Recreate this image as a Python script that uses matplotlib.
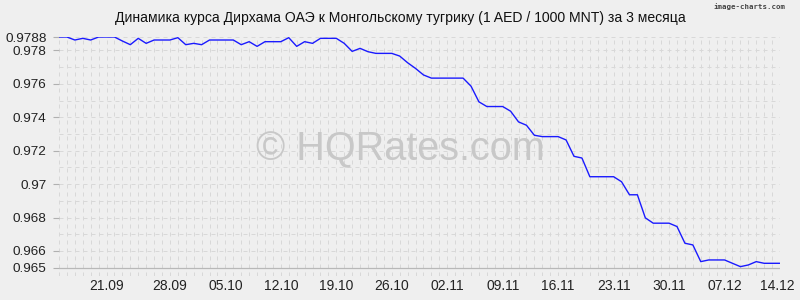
import matplotlib
matplotlib.use("Agg")
import matplotlib.pyplot as plt

# курс AED/MNT (1 AED / 1000 MNT), дневные точки за 3 месяца
rates = [
    0.97880, 0.97880, 0.97862, 0.97872, 0.97862, 0.97880, 0.97880, 0.97880,
    0.97856, 0.97834, 0.97872, 0.97842, 0.97862, 0.97862, 0.97862, 0.97876,
    0.97834, 0.97842, 0.97834, 0.97862, 0.97862, 0.97862, 0.97862, 0.97834,
    0.97852, 0.97824, 0.97852, 0.97852, 0.97852, 0.97876, 0.97824, 0.97852,
    0.97842, 0.97872, 0.97872, 0.97872, 0.97842, 0.97794, 0.97812, 0.97792,
    0.97782, 0.97782, 0.97782, 0.97766, 0.97726, 0.97692, 0.97653, 0.97634,
    0.97634, 0.97634, 0.97634, 0.97634, 0.97586, 0.97492, 0.97464, 0.97464,
    0.97464, 0.97436, 0.97372, 0.97352, 0.97292, 0.97284, 0.97284, 0.97284,
    0.97264, 0.97166, 0.97156, 0.97044, 0.97044, 0.97044, 0.97044, 0.97014,
    0.96936, 0.96936, 0.96798, 0.96766, 0.96766, 0.96766, 0.96746, 0.96646,
    0.96636, 0.96536, 0.96546, 0.96546, 0.96546, 0.96526, 0.96506, 0.96516,
    0.96536, 0.96526, 0.96526, 0.96526,
]
date_labels = ["21.09", "28.09", "05.10", "12.10", "19.10", "26.10", "02.11",
               "09.11", "16.11", "23.11", "30.11", "07.12", "14.12"]
date_pos = [6, 14, 21, 28, 35, 42, 49, 56, 63, 70, 77, 84, 90.6]
y_ticks = [0.9788, 0.978, 0.976, 0.974, 0.972, 0.97, 0.968, 0.966, 0.965]
y_labels = ["0.9788", "0.978", "0.976", "0.974", "0.972", "0.97", "0.968", "0.966", "0.965"]

title = "Динамика курса Дирхама ОАЭ к Монгольскому тугрику (1 AED / 1000 MNT) за 3 месяца"

bg = "#efefef"
plt.rcParams['font.family'] = ['Liberation Sans', 'DejaVu Sans']

fig = plt.figure(figsize=(8, 3), dpi=100, facecolor=bg)
ax = fig.add_axes([59 / 800, 1 - 276 / 300, 721 / 800, 239 / 300], facecolor=bg)

n = len(rates)
x = list(range(n))

# сетка: вертикальные линии на каждый день, горизонтальные через 0.001
dash = (0, (4, 4))
for i in x:
    ax.axvline(i, color="#d8d8d8", lw=0.72, ls=dash, zorder=1)
h_lines = [0.965 + 0.001 * k for k in range(14)] + [0.9788]
for v in h_lines:
    ax.axhline(v, color="#d8d8d8", lw=0.72, ls=dash, zorder=1)
ax.axhline(0.965, color="#b8b8b8", lw=0.9, zorder=2)

ax.plot(x, rates, color="#1a1aff", lw=1.0, zorder=3)

ax.set_xlim(0, n - 1)
ax.set_ylim(0.9645, 0.9788)
for s in ax.spines.values():
    s.set_visible(False)

ax.set_yticks(y_ticks)
ax.set_yticklabels(y_labels)
ax.set_xticks(date_pos)
ax.set_xticklabels(date_labels)
ax.tick_params(axis="y", length=4, width=0.8, color="#b0b0b0", pad=5,
               labelsize=9.7, labelcolor="#222222")
ax.tick_params(axis="x", length=0, pad=2, labelsize=10, labelcolor="#222222")

fig.text(0.5, 1 - 18 / 300, title, ha="center", va="center", fontsize=10.1, color="#111111")
fig.text(0.982, 1 - 7 / 300, "image-charts.com", ha="right", va="center",
         fontsize=5.3, color="#444444", family="DejaVu Sans Mono", weight="bold")
ax.text(0.473, 0.53, "© HQRates.com", transform=ax.transAxes, ha="center", va="center",
        fontsize=28.5, color="#c8c8c8", zorder=2)

fig.savefig("out.png", dpi=100, facecolor=bg)
